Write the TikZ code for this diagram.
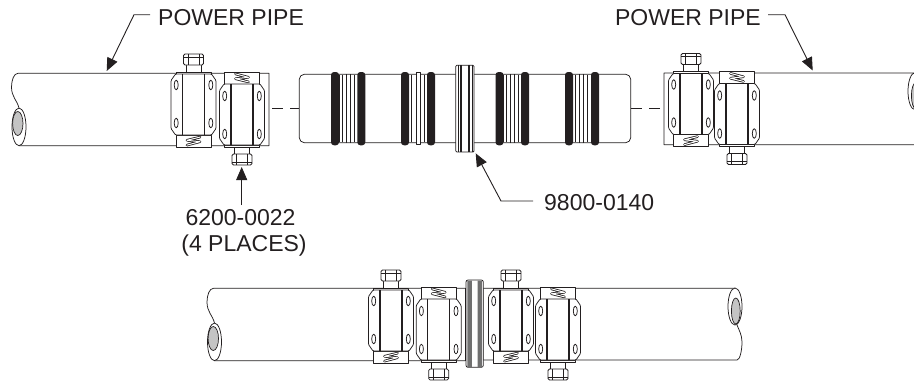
\documentclass[tikz,border=0pt]{standalone}
\usepackage{fontspec}
\setmainfont{Liberation Sans}
\usetikzlibrary{arrows.meta}
\definecolor{ink}{HTML}{231F20}
\definecolor{boregray}{HTML}{C4C4C4}
\definecolor{bandgray}{HTML}{707070}
\tikzset{
  part/.style={draw=ink,line width=0.75pt,fill=white,line join=round},
  thinline/.style={draw=ink,line width=0.7pt},
  heavyline/.style={draw=ink,line width=1.1pt},
  ring/.style={fill=ink,rounded corners=3pt},
  label/.style={font=\fontsize{23}{26}\selectfont,text=ink,inner sep=0pt},
  leader/.style={draw=ink,line width=0.9pt,-{Triangle[length=13pt,width=11pt]}},
  center dash/.style={draw=ink,line width=0.7pt}
}
\newcommand{\clampunit}[3]{%
\begin{scope}[shift={(#1,#2)},yscale=#3]
  % bolt
  \draw[part] (-7.5,-46) rectangle (7.5,-37.5);
  \draw[part,rounded corners=1.5pt] (-10,-55.5) rectangle (10,-44.5);
  \draw[thinline] (-5.5,-55.5) -- (-5.5,-44.5) (5.5,-55.5) -- (5.5,-44.5) (-10,-52.5) -- (10,-52.5);
  % flange and spring block
  \draw[part] (-17.5,-37.5) rectangle (17.5,-35.5);
  \draw[part] (-17.5,25.5) rectangle (17.5,37.5);
  % spring
  \draw[draw=ink,line width=2.6pt,line join=round,line cap=round]
    (6.5,27.6) -- (-6.5,30.8) -- (6.5,32.2) -- (-6.5,35.6);
  \draw[draw=white,line width=1pt,line join=round,line cap=round]
    (6.5,27.6) -- (-6.5,30.8) -- (6.5,32.2) -- (-6.5,35.6);
  % body
  \draw[part,rounded corners=1pt] (-18,-35.5) -- (18,-35.5) -- (22.5,-29) -- (22.5,19) -- (18,25.5) -- (-18,25.5) -- (-22.5,19) -- (-22.5,-29) -- cycle;
  \draw[heavyline] (-11,-35.5) -- (-11,25.5) (11,-35.5) -- (11,25.5);
  \foreach \sx in {-17.3,17.3} \foreach \sy in {-24.5,13.5}
    \draw[part] (\sx,\sy) ellipse [x radius=2,y radius=4.8];
\end{scope}}
\newcommand{\pipeleft}[3]{%
\begin{scope}[shift={(#1,#2)}]
  \draw[part] (#3,73.3) -- (18,73.3) .. controls (14,73.3) and (11.5,80) .. (11.5,87)
     .. controls (11.5,97) and (17,100) .. (19,108) -- (19,145.7) -- (#3,145.7) -- cycle;
  \draw[part] (19,126.9) ellipse [x radius=7,y radius=18.8];
  \draw[thinline,fill=boregray] (17.8,123.5) ellipse [x radius=5.2,y radius=12];
\end{scope}}
\newcommand{\piperight}[3]{%
\begin{scope}[shift={(#1,#2)}]
  \draw[part] (#3,288.3) -- (735,288.3) -- (737,325) .. controls (739,330) and (742,335) .. (742,342)
     .. controls (742,350) and (740,360) .. (737,360) -- (#3,360) -- cycle;
  \draw[part] (735,306.5) ellipse [x radius=7,y radius=18.5];
  \draw[thinline,fill=boregray] (735.8,311) ellipse [x radius=4.4,y radius=13];
\end{scope}}
\begin{document}
\begin{tikzpicture}[x=1pt,y=-1pt]
\useasboundingbox (0,0) rectangle (914,381);
\clip (0,0) rectangle (914,381);
% pipes, top row
\pipeleft{0}{0}{269}
\piperight{180}{-215.3}{484}
% dashed centre lines
\draw[center dash] (272,108.5) -- (283,108.5) (290,108.5) -- (299.3,108.5);
\draw[center dash] (630.7,108.5) -- (642,108.5) (649,108.5) -- (660,108.5);
% coupling
\draw[part,rounded corners=5pt] (299.3,74.3) rectangle (630.7,142.7);
\foreach \a/\b/\c/\d/\e in {339.3/342.3/346.3/350.7/354.7, 408.7/411.7/416/420/424.3, 503.3/506/510/514/518, 572.7/575.3/579.3/583.3/587.7}{
  \draw[thinline] (\a,75) -- (\a,142) (\b,75) -- (\b,142) (\e,75) -- (\e,142);
  \draw[thinline] (\c,74) -- (\c,143) (\d,74) -- (\d,143);
}
\draw[part] (416,72) rectangle (420,144.7);
\foreach \x in {331,357.3,401,427,495.5,521,565,591}
  \fill[ring] (\x,72) rectangle ++(8,73.3);
\draw[part,rounded corners=1pt] (455.8,65.3) rectangle (474,152);
\draw[draw=ink,line width=1pt] (458,65.3) -- (458,152) (472,65.3) -- (472,152);
\draw[draw=ink,line width=2pt] (461.3,65.3) -- (461.3,152) (468.8,65.3) -- (468.8,152);
% clamps, top row
\clampunit{193.5}{109.5}{1}
\clampunit{242}{109.5}{-1}
\clampunit{691}{109}{1}
\clampunit{737}{109}{-1}
% pipes, bottom row
\pipeleft{195.5}{215}{270}
\piperight{0}{0}{483}
\draw[part,rounded corners=2pt] (466,280) rectangle (483.3,367.3);
\fill[bandgray] (467.3,280.5) rectangle (471.8,366.8) (477.6,280.5) rectangle (481.8,366.8);
\clampunit{391}{325.5}{1}
\clampunit{438.7}{324.5}{-1}
\clampunit{511}{325.5}{1}
\clampunit{558}{324.5}{-1}
% labels
\node[label,anchor=base west] (ppl) at (158,25) {POWER PIPE};
\node[label,anchor=base east] (ppr) at (761,25) {POWER PIPE};
\node[label,anchor=base] (pn) at (240.5,225) {6200-0022};
\node[label,anchor=base] (places) at (244,251) {(4 PLACES)};
\node[label,anchor=base west] (cpl) at (544,210) {9800-0140};
% leaders
\coordinate (pplS) at (150,14.7);
\coordinate (pplB) at (134,14.7);
\coordinate (pplT) at (106.7,71);
\draw[leader] (pplS) -- (pplB) -- (pplT);
\coordinate (pprS) at (768,14.7);
\coordinate (pprB) at (785,14.7);
\coordinate (pprT) at (812.7,70.5);
\draw[leader] (pprS) -- (pprB) -- (pprT);
\coordinate (pnS) at (241.7,205);
\coordinate (pnT) at (241.7,167);
\draw[leader] (pnS) -- (pnT);
\coordinate (cplS) at (533,201);
\coordinate (cplB) at (501,201);
\coordinate (cplT) at (475.7,153.3);
\draw[leader] (cplS) -- (cplB) -- (cplT);
\end{tikzpicture}
\end{document}
